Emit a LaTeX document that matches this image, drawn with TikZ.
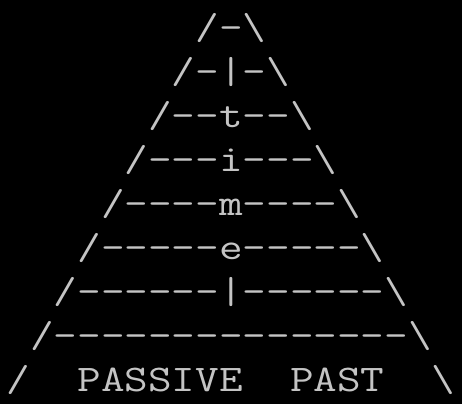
\documentclass[tikz,border=0pt]{standalone}
\usepackage{fontspec}
\newfontfamily\asciifont{Latin Modern Mono}[FakeStretch=1.22]
\usetikzlibrary{positioning}
\definecolor{termgray}{RGB}{196,196,196}

\begin{document}
\begin{tikzpicture}[x=1pt,y=1pt,
  row/.style={anchor=base,inner sep=0pt,text=termgray,font=\asciifont\fontsize{37.6}{40}\selectfont}]
\fill[black] (0,0) rectangle (462,-404);
\node[row] (l1) at (231,-39.0)  {/-\textbackslash};
\node[row] (l2) at (231,-83.1)  {/-|-\textbackslash};
\node[row] (l3) at (231,-127.2) {/--t--\textbackslash};
\node[row] (l4) at (231,-171.3) {/---i---\textbackslash};
\node[row] (l5) at (231,-215.4) {/----m----\textbackslash};
\node[row] (l6) at (231,-259.5) {/-----e-----\textbackslash};
\node[row] (l7) at (231,-303.6) {/------|------\textbackslash};
\node[row] (l8) at (231,-347.7) {/---------------\textbackslash};
\node[row] (l9) at (231,-391.8) {/\ \ PASSIVE\ \ PAST\ \ \textbackslash};
\end{tikzpicture}
\end{document}
